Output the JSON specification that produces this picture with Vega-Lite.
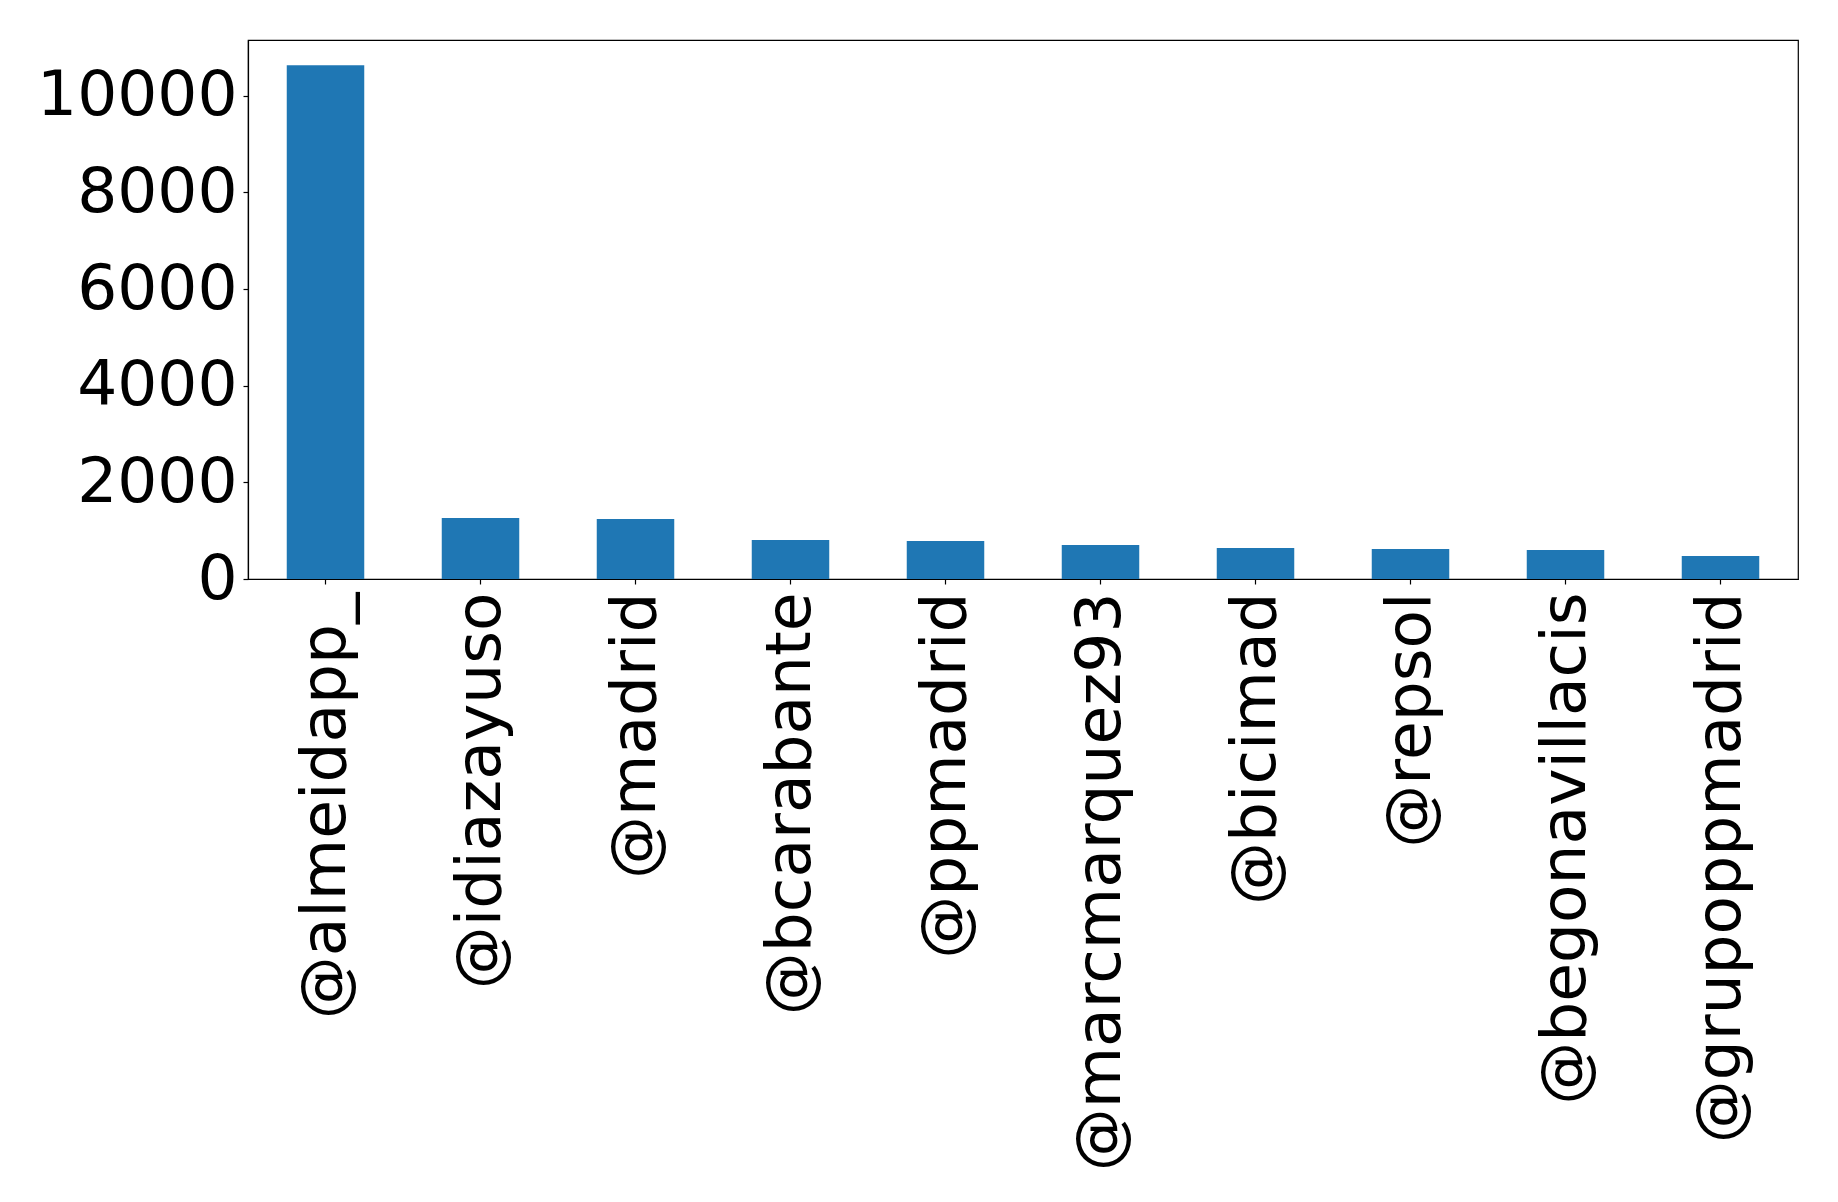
{
  "$schema": "https://vega.github.io/schema/vega-lite/v6.json",
  "width": 1550,
  "height": 539,
  "autosize": {"type": "none"},
  "padding": {"left": 248, "top": 40, "right": 40, "bottom": 623},
  "background": "white",
  "config": {
    "font": "DejaVu Sans",
    "view": {"stroke": "black", "strokeWidth": 1.2},
    "axis": {
      "grid": false,
      "domainColor": "black",
      "domainWidth": 1.2,
      "tickColor": "black",
      "tickWidth": 1.2,
      "tickSize": 5,
      "labelColor": "black",
      "labelFont": "DejaVu Sans",
      "labelFontSize": 63,
      "labelLimit": 1000,
      "title": null
    }
  },
  "data": {
    "values": [
      {"user": "@almeidapp_", "count": 10630},
      {"user": "@idiazayuso", "count": 1262},
      {"user": "@madrid", "count": 1241},
      {"user": "@bcarabante", "count": 807},
      {"user": "@ppmadrid", "count": 786},
      {"user": "@marcmarquez93", "count": 703},
      {"user": "@bicimad", "count": 641},
      {"user": "@repsol", "count": 620},
      {"user": "@begonavillacis", "count": 600},
      {"user": "@grupoppmadrid", "count": 476}
    ]
  },
  "mark": {"type": "bar", "color": "#1f77b4"},
  "encoding": {
    "x": {
      "field": "user",
      "type": "nominal",
      "sort": null,
      "scale": {"paddingInner": 0.5, "paddingOuter": 0.25},
      "axis": {"labelAngle": -90, "labelPadding": 8}
    },
    "y": {
      "field": "count",
      "type": "quantitative",
      "scale": {"domain": [0, 11155], "nice": false, "zero": true},
      "axis": {"values": [0, 2000, 4000, 6000, 8000, 10000], "format": "d", "labelPadding": 6}
    }
  }
}
